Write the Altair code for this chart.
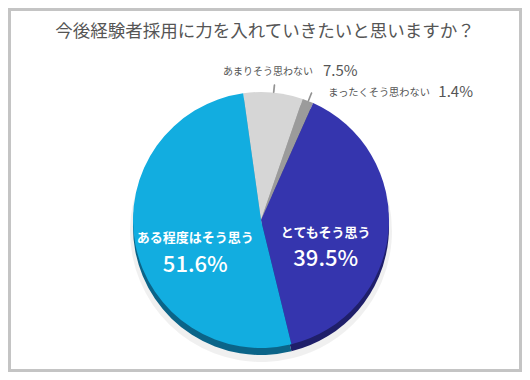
import math
import pandas as pd
import altair as alt

TITLE = "今後経験者採用に力を入れていきたいと思いますか？"
categories = ["あまりそう思わない", "まったくそう思わない", "とてもそう思う", "ある程度はそう思う"]
values = [7.5, 1.4, 39.5, 51.6]
pct_labels = ["7.5%", "1.4%", "39.5%", "51.6%"]
face_colors = ["#D6D6D6", "#9B9B9B", "#3535AE", "#12ADE0"]
edge_colors = ["#A9A9A9", "#6E6E6E", "#1F1F6A", "#0B6488"]

df = pd.DataFrame({"cat": categories, "value": values, "pct": pct_labels, "idx": list(range(len(values)))})
df["mid"] = df["value"].cumsum() - df["value"] / 2
df["mid2"] = df["mid"] + 0.1

W, H = 514, 364
CX, CY = 253, 212
R = 128
DEPTH = 7
FONT = "Noto Sans CJK JP"

start = math.radians(-8)
TS = alt.Scale(domain=[0, 100], range=[start, start + 2 * math.pi])

base = alt.Chart(df)

shadow = base.mark_arc(outerRadius=R + 3, fill="#000000", opacity=0.06).encode(
    theta=alt.Theta("value:Q", stack=True, scale=TS),
    order=alt.Order("idx:Q"),
    x=alt.value(CX), y=alt.value(CY + DEPTH + 4),
)

edge = base.mark_arc(outerRadius=R).encode(
    theta=alt.Theta("value:Q", stack=True, scale=TS),
    color=alt.Color("cat:N", scale=alt.Scale(domain=categories, range=edge_colors), legend=None),
    order=alt.Order("idx:Q"),
    x=alt.value(CX), y=alt.value(CY + DEPTH),
)

face = base.mark_arc(outerRadius=R).encode(
    theta=alt.Theta("value:Q", stack=True, scale=TS),
    color=alt.Color("cat:N", scale=alt.Scale(domain=categories, range=face_colors), legend=None),
    order=alt.Order("idx:Q"),
    x=alt.value(CX), y=alt.value(CY),
)


def leader(i, r0, r1):
    return base.transform_filter(alt.datum.cat == categories[i]).mark_arc(
        innerRadius=r0, outerRadius=r1, fill="#8a8a8a", stroke="#8a8a8a", strokeWidth=0.7
    ).encode(
        theta=alt.Theta("mid:Q", stack=False, scale=TS),
        theta2="mid2:Q",
        x=alt.value(CX), y=alt.value(CY),
    )


def label(i, field, r, dx, dy, size, color, weight, align="center"):
    return base.transform_filter(alt.datum.cat == categories[i]).mark_text(
        radius=r, dx=dx, dy=dy, fontSize=size, color=color, fontWeight=weight,
        font=FONT, align=align, baseline="middle",
    ).encode(
        theta=alt.Theta("mid:Q", stack=False, scale=TS),
        text=f"{field}:N",
        x=alt.value(CX), y=alt.value(CY),
    )


layers = [
    shadow, edge, face,
    leader(0, 128, 136),
    leader(1, 128, 137),
    label(0, "cat", 145, 38, -4, 10, "#555555", "normal", "right"),
    label(0, "pct", 145, 48, -5, 15, "#555555", "normal", "left"),
    label(1, "cat", 140, 16, 3, 10.2, "#555555", "normal", "left"),
    label(1, "pct", 140, 126, 2, 15, "#555555", "normal", "left"),
    label(2, "cat", 70, -5, 7, 13, "#FFFFFF", "bold"),
    label(2, "pct", 70, -5, 33, 22, "#FFFFFF", 500),
    label(3, "cat", 70, 3, 5, 13, "#FFFFFF", "bold"),
    label(3, "pct", 70, 3, 32, 22, "#FFFFFF", 500),
]

title = alt.Chart(pd.DataFrame({"t": [TITLE]})).mark_text(
    fontSize=17.5, color="#555555", font=FONT, align="center", baseline="middle"
).encode(text="t:N", x=alt.value(257), y=alt.value(24))

chart = alt.layer(*layers, title).resolve_scale(color="independent").properties(
    width=W, height=H, padding=0,
    autosize=alt.AutoSizeParams(type="fit", contains="padding"),
).configure_view(stroke="#c4c4c4", strokeWidth=6)

chart.save("out.html", embed_options={"renderer": "svg", "actions": False})
